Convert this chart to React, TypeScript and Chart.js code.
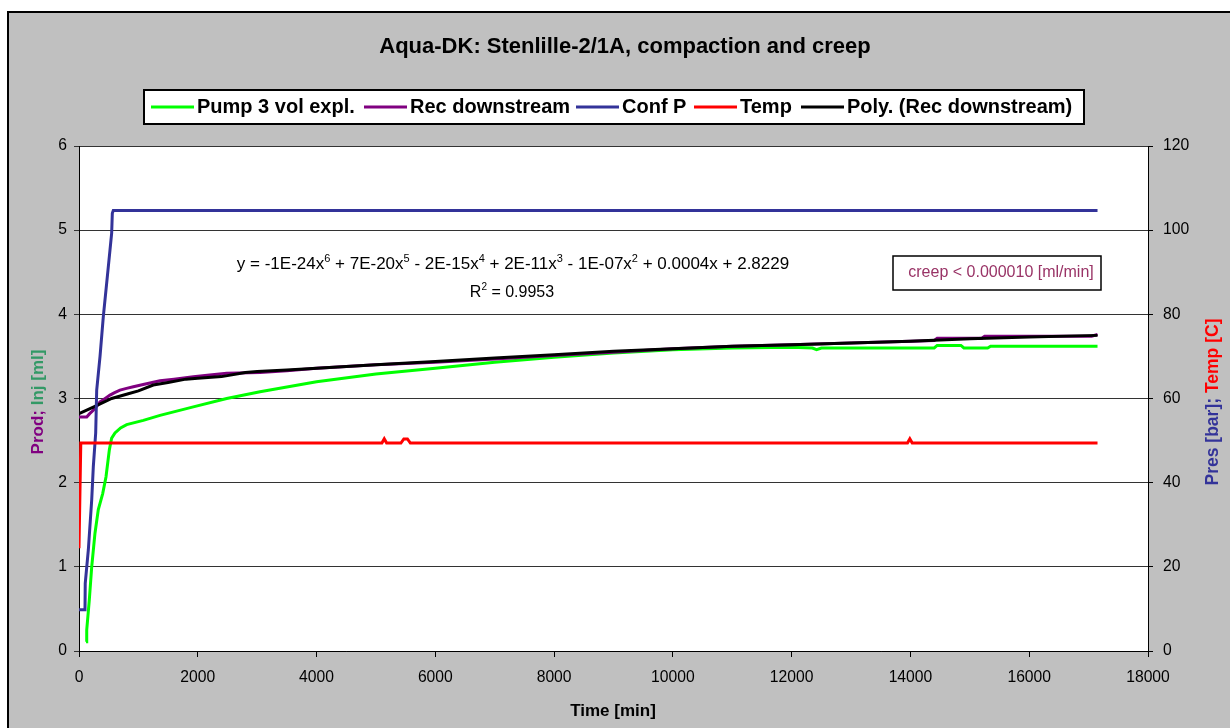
import React, { useEffect, useRef } from 'react';
import { Chart, registerables } from 'chart.js';

Chart.register(...registerables);

const FONT = "'Liberation Sans', Arial, sans-serif";

// Pump 3 volume (left axis, ml)
const pumpTime = [118, 130, 174, 214, 269, 325, 399, 455, 511, 550, 606, 700, 803, 1083, 1364, 1925, 2487, 3048, 4000, 5000, 6000, 7000, 8000, 9000, 10000, 11000, 12000, 12350, 12420, 12500, 14400, 14450, 14850, 14900, 15300, 15350, 17150];
const pumpVol = [0.11, 0.25, 0.61, 1.0, 1.4, 1.68, 1.87, 2.07, 2.39, 2.53, 2.59, 2.65, 2.69, 2.74, 2.8, 2.9, 3.0, 3.08, 3.2, 3.29, 3.36, 3.43, 3.49, 3.54, 3.58, 3.6, 3.61, 3.6, 3.58, 3.6, 3.6, 3.63, 3.63, 3.6, 3.6, 3.62, 3.62];

// Receiver downstream (left axis, ml)
const recTime = [0, 130, 180, 241, 300, 354, 440, 522, 600, 690, 800, 915, 1100, 1364, 1600, 1925, 2200, 2487, 3048, 3500, 4000, 5000, 6000, 7000, 8000, 9000, 10000, 11000, 12000, 13000, 14000, 14400, 14450, 15200, 15250, 17050, 17150];
const recVol = [2.78, 2.78, 2.82, 2.86, 2.91, 2.96, 3.0, 3.04, 3.07, 3.1, 3.12, 3.14, 3.17, 3.21, 3.23, 3.26, 3.28, 3.3, 3.31, 3.33, 3.36, 3.4, 3.43, 3.47, 3.51, 3.55, 3.59, 3.62, 3.64, 3.66, 3.68, 3.69, 3.715, 3.715, 3.74, 3.74, 3.76];

// Confining pressure (right axis, bar)
const confTime = [0, 101, 105, 157, 214, 241, 281, 298, 354, 409, 466, 522, 550, 561, 578, 17150];
const confPres = [9.8, 9.8, 16.1, 24.0, 35.9, 43.8, 51.8, 62.0, 70.0, 79.4, 87.4, 95.3, 99.3, 104.0, 104.7, 104.7];

// Temperature (right axis, C)
const tempTime = [0, 30, 5100, 5140, 5180, 5420, 5470, 5530, 5580, 13950, 13990, 14030, 17150];
const tempC = [24.4, 49.4, 49.4, 50.4, 49.4, 49.4, 50.4, 50.4, 49.4, 49.4, 50.4, 49.4, 49.4];

// 6th-order polynomial trend of the downstream receiver
const polyTime = [0, 250, 550, 800, 1000, 1250, 1500, 1800, 2000, 2400, 2800, 3000, 3500, 4000, 5000, 6000, 7000, 8000, 9000, 10000, 11000, 12000, 13000, 14000, 15000, 16000, 17150];
const polyVol = [2.82, 2.9, 3.0, 3.05, 3.09, 3.16, 3.19, 3.23, 3.24, 3.26, 3.31, 3.32, 3.34, 3.36, 3.4, 3.44, 3.48, 3.52, 3.56, 3.59, 3.62, 3.64, 3.66, 3.68, 3.71, 3.73, 3.75];

const TITLE = 'Aqua-DK: Stenlille-2/1A, compaction and creep';
const X_TITLE = 'Time [min]';
const CREEP_NOTE = 'creep < 0.000010 [ml/min]';
const EQUATION: [string, boolean][] = [
  ['y = -1E-24x', false], ['6', true], [' + 7E-20x', false], ['5', true],
  [' - 2E-15x', false], ['4', true], [' + 2E-11x', false], ['3', true],
  [' - 1E-07x', false], ['2', true], [' + 0.0004x + 2.8229', false],
];
const R_SQUARED: [string, boolean][] = [['R', false], ['2', true], [' = 0.9953', false]];

const toPoints = (xs: number[], ys: number[]) => xs.map((x, i) => ({ x, y: ys[i] }));

type Part = { t: string; c: string };

function drawColoredLine(ctx: CanvasRenderingContext2D, parts: Part[], cx: number, cy: number, font: string) {
  ctx.font = font;
  const total = parts.reduce((s, p) => s + ctx.measureText(p.t).width, 0);
  let x = cx - total / 2;
  ctx.textAlign = 'left';
  ctx.textBaseline = 'middle';
  for (const p of parts) {
    ctx.fillStyle = p.c;
    ctx.fillText(p.t, x, cy);
    x += ctx.measureText(p.t).width;
  }
}

function drawSuperscripted(ctx: CanvasRenderingContext2D, parts: [string, boolean][], cx: number, baseline: number, size: number) {
  const base = `${size}px ${FONT}`;
  const sup = `${Math.round(size * 0.62)}px ${FONT}`;
  let total = 0;
  for (const [t, s] of parts) {
    ctx.font = s ? sup : base;
    total += ctx.measureText(t).width;
  }
  let x = cx - total / 2;
  ctx.textAlign = 'left';
  ctx.textBaseline = 'alphabetic';
  ctx.fillStyle = '#000';
  for (const [t, s] of parts) {
    ctx.font = s ? sup : base;
    ctx.fillText(t, x, s ? baseline - size * 0.42 : baseline);
    x += ctx.measureText(t).width;
  }
}

const decorations = {
  id: 'decorations',
  beforeDraw(chart: any) {
    const { ctx, chartArea: a } = chart;
    ctx.save();
    ctx.fillStyle = '#ffffff';
    ctx.fillRect(a.left, a.top, a.right - a.left, a.bottom - a.top);
    ctx.restore();
  },
  afterDraw(chart: any) {
    const { ctx } = chart;
    ctx.save();

    // title
    ctx.fillStyle = '#000';
    ctx.font = `bold 22px ${FONT}`;
    ctx.textAlign = 'center';
    ctx.textBaseline = 'middle';
    ctx.fillText(TITLE, 625, 47);

    // legend box
    ctx.fillStyle = '#fff';
    ctx.fillRect(144, 90, 940, 34);
    ctx.strokeStyle = '#000';
    ctx.lineWidth = 2;
    ctx.strokeRect(144, 90, 940, 34);
    const starts = [151, 364, 576, 694, 801];
    ctx.font = `bold 20px ${FONT}`;
    ctx.textAlign = 'left';
    ctx.textBaseline = 'middle';
    chart.data.datasets.forEach((ds: any, i: number) => {
      const x0 = starts[i];
      ctx.strokeStyle = ds.borderColor;
      ctx.lineWidth = 3;
      ctx.beginPath();
      ctx.moveTo(x0, 107);
      ctx.lineTo(x0 + 43, 107);
      ctx.stroke();
      ctx.fillStyle = '#000';
      ctx.fillText(ds.label, x0 + 46, 107);
    });

    // trendline equation
    drawSuperscripted(ctx, EQUATION, 513, 269, 17);
    drawSuperscripted(ctx, R_SQUARED, 512, 297, 16);

    // creep note
    ctx.fillStyle = '#fff';
    ctx.fillRect(893, 256, 208, 34);
    ctx.strokeStyle = '#000';
    ctx.lineWidth = 1.5;
    ctx.strokeRect(893, 256, 208, 34);
    ctx.fillStyle = '#993366';
    ctx.font = `16px ${FONT}`;
    ctx.textAlign = 'center';
    ctx.textBaseline = 'middle';
    ctx.fillText(CREEP_NOTE, 1001, 273);

    // axis titles
    ctx.fillStyle = '#000';
    ctx.font = `bold 17px ${FONT}`;
    ctx.fillText(X_TITLE, 613, 711);

    ctx.save();
    ctx.translate(38, 402);
    ctx.rotate(-Math.PI / 2);
    drawColoredLine(ctx, [{ t: 'Prod; ', c: '#800080' }, { t: 'Inj [ml]', c: '#339966' }], 0, 0, `bold 17px ${FONT}`);
    ctx.restore();

    ctx.save();
    ctx.translate(1213, 402);
    ctx.rotate(-Math.PI / 2);
    drawColoredLine(ctx, [{ t: 'Pres [bar]; ', c: '#333399' }, { t: 'Temp [C]', c: '#ff0000' }], 0, 0, `bold 17.5px ${FONT}`);
    ctx.restore();

    ctx.restore();
  },
};

export default function App() {
  const canvasRef = useRef<HTMLCanvasElement | null>(null);

  useEffect(() => {
    const canvas = canvasRef.current;
    if (!canvas) return;
    const tickFont = { family: FONT, size: 15.7 };
    const plain = (v: any) => String(v);
    const line = (label: string, color: string, data: any[], axis: string, order: number) => ({
      label,
      data,
      yAxisID: axis,
      borderColor: color,
      backgroundColor: color,
      borderWidth: 3,
      pointRadius: 0,
      tension: 0,
      fill: false,
      order,
    });
    const chart = new Chart(canvas, {
      type: 'line',
      data: {
        datasets: [
          line('Pump 3 vol expl.', '#00ff00', toPoints(pumpTime, pumpVol), 'y', 4),
          line('Rec downstream', '#800080', toPoints(recTime, recVol), 'y', 3),
          line('Conf P', '#333399', toPoints(confTime, confPres), 'y2', 1),
          line('Temp', '#ff0000', toPoints(tempTime, tempC), 'y2', 0),
          line('Poly. (Rec downstream)', '#000000', toPoints(polyTime, polyVol), 'y', 2),
        ],
      },
      options: {
        responsive: false,
        animation: false,
        events: [],
        layout: { padding: { top: 146, left: 0, right: 0, bottom: 0 } },
        plugins: { legend: { display: false }, title: { display: false }, tooltip: { enabled: false } },
        scales: {
          x: {
            type: 'linear',
            min: 0,
            max: 18000,
            ticks: { stepSize: 2000, font: tickFont, color: '#000', padding: 11, maxRotation: 0, autoSkip: false, callback: plain },
            grid: { drawOnChartArea: false, drawTicks: true, tickLength: 6, color: '#000' },
            border: { color: '#000', width: 1 },
            afterFit: (s: any) => { s.height = 77; },
          },
          y: {
            position: 'left',
            min: 0,
            max: 6,
            ticks: { stepSize: 1, font: tickFont, color: '#000', padding: 7, callback: plain },
            grid: { drawOnChartArea: true, drawTicks: true, tickLength: 5, color: '#333' },
            border: { color: '#000', width: 1 },
            afterFit: (s: any) => { s.width = 79; },
          },
          y2: {
            position: 'right',
            min: 0,
            max: 120,
            ticks: { stepSize: 20, font: tickFont, color: '#000', padding: 10, callback: plain },
            grid: { drawOnChartArea: false, drawTicks: true, tickLength: 5, color: '#000' },
            border: { color: '#000', width: 1 },
            afterFit: (s: any) => { s.width = 82; },
          },
        },
      },
      plugins: [decorations],
    } as any);
    return () => chart.destroy();
  }, []);

  return (
    <div style={{ position: 'fixed', left: 0, top: 0, width: 1230, height: 728, overflow: 'hidden', background: '#fff' }}>
      <div
        style={{
          position: 'absolute',
          left: 7,
          top: 11,
          width: 1260,
          height: 760,
          background: '#c0c0c0',
          border: '2px solid #000',
          boxSizing: 'border-box',
        }}
      />
      <canvas ref={canvasRef} width={1230} height={728} style={{ position: 'absolute', left: 0, top: 0 }} />
    </div>
  );
}
